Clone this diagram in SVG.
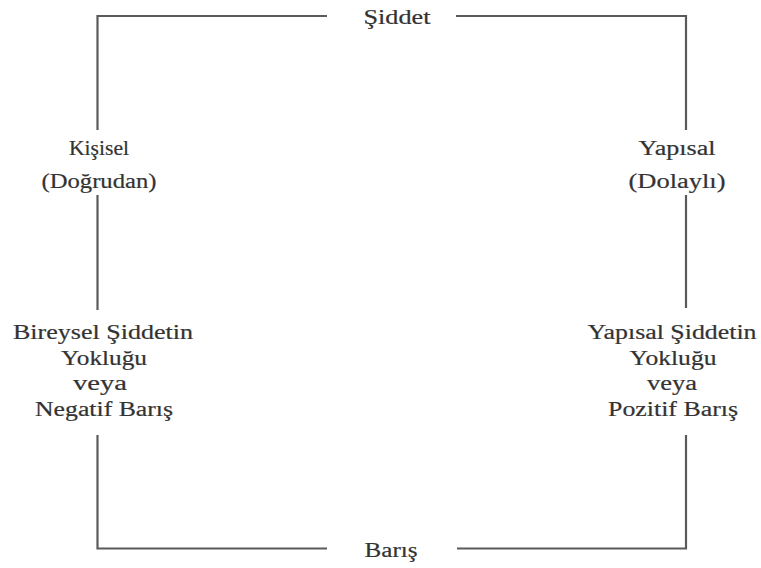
<svg xmlns="http://www.w3.org/2000/svg" width="761" height="568" viewBox="0 0 761 568">
<style>
.t{font-family:"Liberation Serif","Times New Roman",serif;font-size:20px;fill:#333;stroke:#333;stroke-width:0.2;text-anchor:middle}
.ln{stroke:#5a5a5a;stroke-width:2.2;fill:none}
</style>
<rect width="761" height="568" fill="#fff"/>
<g id="connectors">
<polyline class="ln" points="327,16 97.5,16 97.5,130"/>
<polyline class="ln" points="456,16 686,16 686,130"/>
<line class="ln" x1="97.5" y1="195" x2="97.5" y2="310"/>
<line class="ln" x1="686" y1="195" x2="686" y2="308"/>
<polyline class="ln" points="97.5,435 97.5,548.5 327,548.5"/>
<polyline class="ln" points="686,435 686,548.5 457,548.5"/>
</g>
<g id="siddet"><text class="t" x="397" y="24" textLength="67" lengthAdjust="spacingAndGlyphs">Şiddet</text></g>
<g id="baris"><text class="t" x="391" y="557" textLength="53" lengthAdjust="spacingAndGlyphs">Barış</text></g>
<g id="kisisel">
<text class="t" x="99" y="155" textLength="60" lengthAdjust="spacingAndGlyphs">Kişisel</text>
<text class="t" x="99" y="188" textLength="115" lengthAdjust="spacingAndGlyphs">(Doğrudan)</text>
</g>
<g id="yapisal">
<text class="t" x="677" y="155" textLength="77" lengthAdjust="spacingAndGlyphs">Yapısal</text>
<text class="t" x="677" y="188" textLength="97" lengthAdjust="spacingAndGlyphs">(Dolaylı)</text>
</g>
<g id="negatif">
<text class="t" x="103" y="339" textLength="180" lengthAdjust="spacingAndGlyphs">Bireysel Şiddetin</text>
<text class="t" x="104" y="365" textLength="86" lengthAdjust="spacingAndGlyphs">Yokluğu</text>
<text class="t" x="100" y="390" textLength="54" lengthAdjust="spacingAndGlyphs">veya</text>
<text class="t" x="104" y="416" textLength="138" lengthAdjust="spacingAndGlyphs">Negatif Barış</text>
</g>
<g id="pozitif">
<text class="t" x="672" y="339" textLength="169" lengthAdjust="spacingAndGlyphs">Yapısal Şiddetin</text>
<text class="t" x="673" y="365" textLength="87" lengthAdjust="spacingAndGlyphs">Yokluğu</text>
<text class="t" x="672" y="390" textLength="50" lengthAdjust="spacingAndGlyphs">veya</text>
<text class="t" x="673" y="416" textLength="130" lengthAdjust="spacingAndGlyphs">Pozitif Barış</text>
</g>
</svg>
